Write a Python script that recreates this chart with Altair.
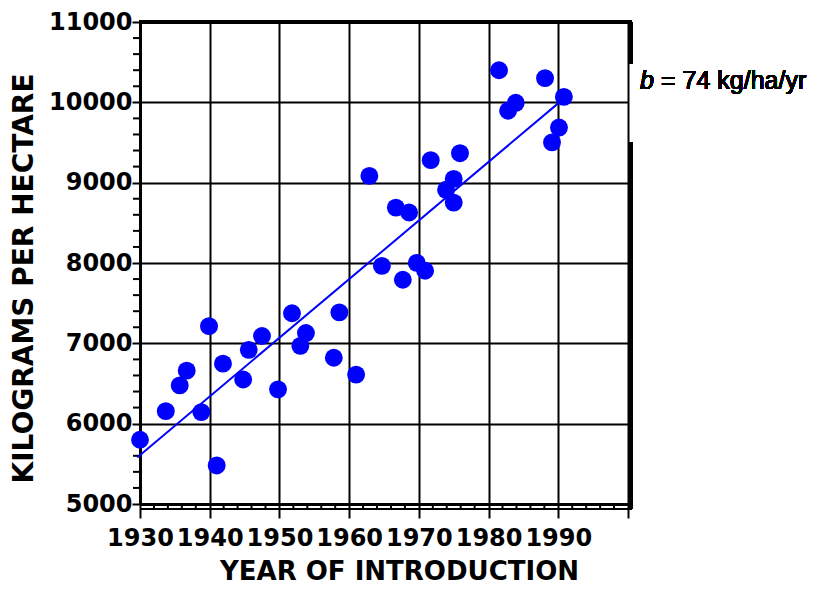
import altair as alt
import pandas as pd

# Data
years = [1930.0, 1933.7, 1935.7, 1936.7, 1938.8, 1939.9, 1941.0, 1941.9, 1944.8,
         1945.6, 1947.5, 1949.8, 1951.8, 1953.0, 1953.8, 1957.8, 1958.6, 1961.0,
         1962.9, 1964.7, 1966.7, 1967.7, 1968.6, 1969.7, 1970.9, 1971.7, 1973.9,
         1975.0, 1975.0, 1975.9, 1981.5, 1982.8, 1983.9, 1988.1, 1989.1, 1990.1,
         1990.8]
yields = [5800, 6156, 6476, 6660, 6144, 7214, 5480, 6747, 6550,
          6919, 7091, 6427, 7374, 6968, 7128, 6820, 7386, 6611,
          9084, 7964, 8690, 7792, 8629, 8001, 7903, 9280, 8911,
          9047, 8752, 9367, 10400, 9895, 9994, 10301, 9502, 9686,
          10068]
fit_years = [1929.6, 1990.7]
fit_yields = [5580, 10040]

x_major = list(range(1930, 2001, 10))
x_minor = [v for v in range(1932, 2000, 2) if v % 10]
y_major = list(range(5000, 11001, 1000))
y_minor = [v for v in range(5200, 11000, 200) if v % 1000]

W, H = 488, 482
FONT = "DejaVu Sans"

xs = alt.Scale(domain=[1930, 2000], nice=False, zero=False)
ys = alt.Scale(domain=[5000, 11000], nice=False, zero=False)

pts = pd.DataFrame({"year": years, "kg": yields})
fit = pd.DataFrame({"year": fit_years, "kg": fit_yields})
xmin = pd.DataFrame({"year": x_minor})
ymin = pd.DataFrame({"kg": y_minor})

x_axis = alt.Axis(
    values=x_major, format="d",
    labelExpr="datum.value < 2000 ? datum.label : ''",
    grid=True, gridColor="black", gridWidth=2, gridOpacity=1,
    domainColor="black", domainWidth=3,
    tickColor="black", tickSize=14, tickWidth=2,
    labelFont=FONT, labelFontWeight="bold", labelFontSize=24, labelColor="black",
    labelPadding=8, labelFlush=False, labelOverlap=False,
    title="YEAR OF INTRODUCTION", titleFont=FONT, titleFontWeight="bold",
    titleFontSize=26, titleColor="black", titleX=W / 2 + 15, titleY=75,
    titleBaseline="alphabetic", titleAnchor="middle",
)
y_axis = alt.Axis(
    values=y_major, format="d",
    grid=True, gridColor="black", gridWidth=2, gridOpacity=1,
    domainColor="black", domainWidth=3,
    tickColor="black", tickSize=8, tickWidth=2,
    labelFont=FONT, labelFontWeight="bold", labelFontSize=24, labelColor="black",
    labelPadding=0, labelFlush=False, labelOverlap=False,
    title="KILOGRAMS PER HECTARE", titleFont=FONT, titleFontWeight="bold",
    titleFontSize=28, titleColor="black", titleAngle=270, titleX=-108, titleY=256,
    titleBaseline="alphabetic", titleAlign="center",
)

points = alt.Chart(pts).mark_circle(size=320, color="#0000ff", opacity=1).encode(
    x=alt.X("year:Q", scale=xs, axis=x_axis),
    y=alt.Y("kg:Q", scale=ys, axis=y_axis),
)

line = alt.Chart(fit).mark_line(color="#0000ff", strokeWidth=2).encode(
    x=alt.X("year:Q", scale=xs),
    y=alt.Y("kg:Q", scale=ys),
)

x_minor_ticks = alt.Chart(xmin).mark_rule(color="black", strokeWidth=2).encode(
    x=alt.X("year:Q", scale=xs),
    y=alt.value(H), y2=alt.value(H + 5),
)
y_minor_ticks = alt.Chart(ymin).mark_rule(color="black", strokeWidth=2).encode(
    y=alt.Y("kg:Q", scale=ys),
    x=alt.value(-7), x2=alt.value(0),
)

bottom_line = alt.Chart(pts).mark_rule(color="black", strokeWidth=2).encode(
    x=alt.value(0), x2=alt.value(W + 4), y=alt.value(H + 5)
)
top_line = alt.Chart(pts).mark_rule(color="black", strokeWidth=3).encode(
    x=alt.value(-1), x2=alt.value(W + 4), y=alt.value(0)
)
right_upper = alt.Chart(pts).mark_rule(color="black", strokeWidth=3).encode(
    x=alt.value(W + 3), y=alt.value(0), y2=alt.value(42)
)
right_lower = alt.Chart(pts).mark_rule(color="black", strokeWidth=3).encode(
    x=alt.value(W + 3), y=alt.value(120), y2=alt.value(H + 5)
)

note_b = alt.Chart(pts).mark_text(
    text="b", font="Liberation Sans", fontSize=25, fontStyle="italic",
    align="left", baseline="alphabetic", color="black",
).encode(x=alt.value(500), y=alt.value(67))
note_rest = alt.Chart(pts).mark_text(
    text="= 74 kg/ha/yr", font="Liberation Sans", fontSize=25,
    align="left", baseline="alphabetic", color="black",
).encode(x=alt.value(521), y=alt.value(67))

chart = alt.layer(
    x_minor_ticks, y_minor_ticks, bottom_line, top_line, right_upper, right_lower,
    line, points, note_b, note_rest,
).properties(
    width=W, height=H,
    padding={"left": 132, "top": 14, "right": 182, "bottom": 84},
    autosize=alt.AutoSizeParams(type="none"),
).configure_view(
    stroke="black", strokeWidth=2
).configure(background="white")

chart.save("out.html", embed_options={"renderer": "svg", "actions": False})
